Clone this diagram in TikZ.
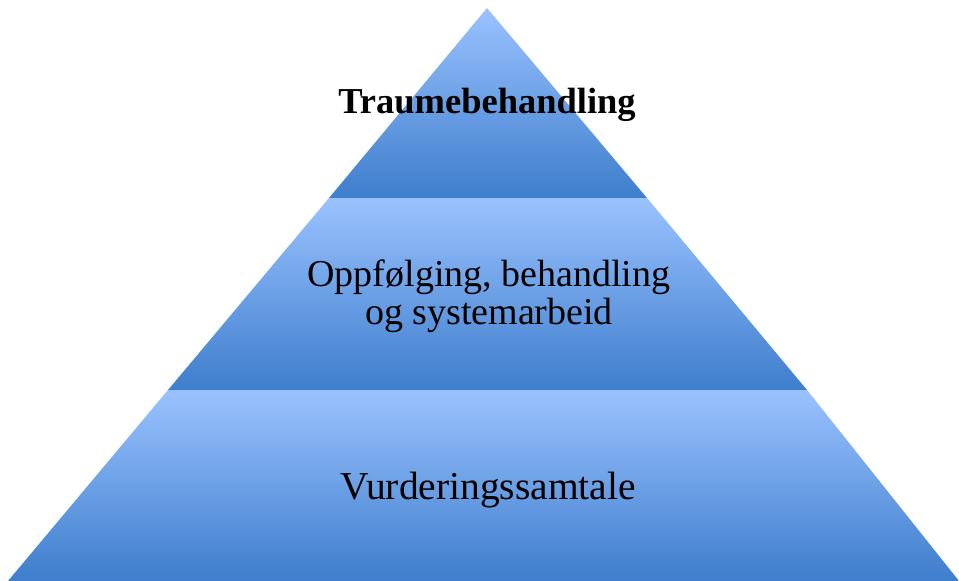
\documentclass[tikz,border=0pt]{standalone}
\usepackage{fontspec}
\setmainfont{Liberation Serif}
\definecolor{tierTop}{RGB}{154,194,255}
\definecolor{tierBot}{RGB}{62,126,204}
\begin{document}
\begin{tikzpicture}[x=1pt,y=-1pt,
  tier/.style={top color=tierTop, bottom color=tierBot, draw=none},
  tiertext/.style={align=center, text=black, inner sep=0pt, anchor=base}]
\useasboundingbox (0,0) rectangle (959,581);
\coordinate (apex) at (487,8);
\coordinate (l1) at (329,198);
\coordinate (r1) at (647,198);
\coordinate (l2) at (168,390);
\coordinate (r2) at (807,390);
\coordinate (l3) at (8,581);
\coordinate (r3) at (959,581);
\shade[tier] (apex) -- (r1) -- (l1) -- cycle;
\shade[tier] (l1) -- (r1) -- (r2) -- (l2) -- cycle;
\shade[tier] (l2) -- (r2) -- (r3) -- (l3) -- cycle;
\node[tiertext, font=\fontsize{36.5}{38}\selectfont\bfseries] (t1) at (487,113) {Traumebehandling};
\node[tiertext, font=\fontsize{38}{38}\selectfont, anchor=north] (t2) at (489,260) {Oppfølging, behandling\\og systemarbeid};
\node[tiertext, font=\fontsize{39.5}{40}\selectfont] (t3) at (488,499) {Vurderingssamtale};
\end{tikzpicture}
\end{document}
